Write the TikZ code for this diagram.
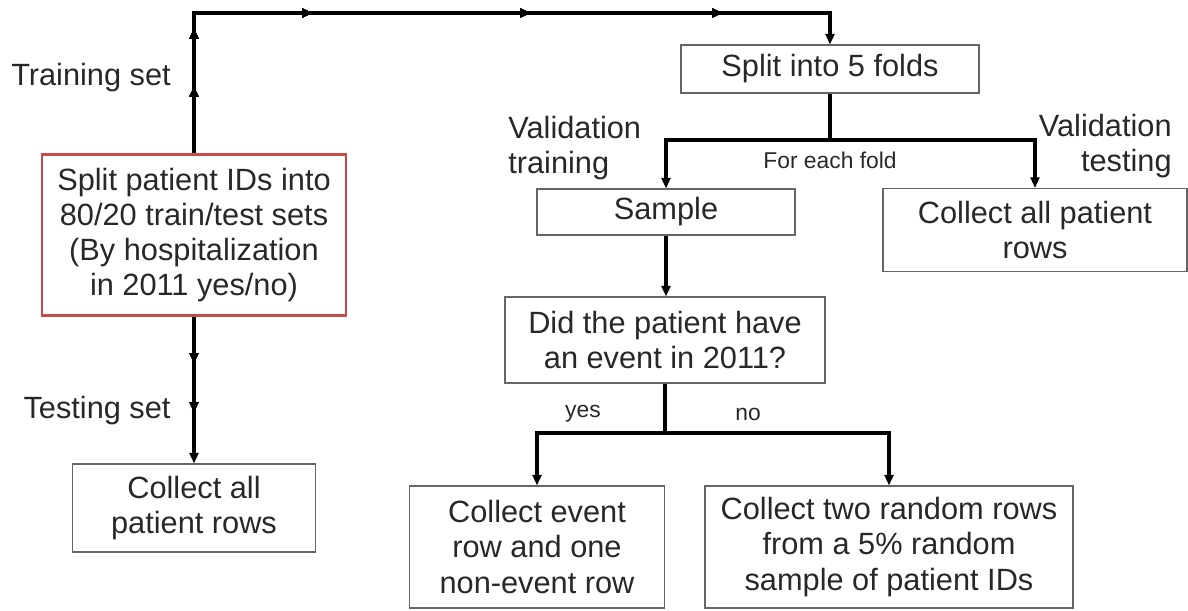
\documentclass[tikz,border=0pt]{standalone}
\usepackage{fontspec}
\setmainfont{Liberation Sans}
\usepackage{tikz}
\usetikzlibrary{arrows.meta,decorations.markings}
\definecolor{boxred}{RGB}{200,75,75}
\definecolor{ink}{RGB}{40,40,40}
\newcommand{\bigtext}{\fontsize{17.5}{20}\selectfont}
\newcommand{\smalltext}{\fontsize{13}{15}\selectfont}

\begin{document}
\begin{tikzpicture}[x=0.02cm,y=-0.02cm,
    box/.style={draw=black!60, line width=0.6pt, align=center, inner sep=0pt, font=\bigtext, text=ink},
    redbox/.style={box, draw=boxred, line width=1.4pt},
    conn/.style={line width=1.8pt, -{Triangle[length=6pt,width=5pt]}},
    line/.style={line width=1.8pt},
    tip/.style={decoration={markings, mark=at position #1 with {\arrow{Triangle[length=6pt,width=5pt]}}}, postaction={decorate}},
    lbl/.style={font=\bigtext, align=left, inner sep=0pt, text=ink},
    small/.style={font=\smalltext, inner sep=0pt, text=ink}]
    \useasboundingbox (0,0) rectangle (1188,611);
    %\draw[help lines] (0,0) grid (1188,611);

    % boxes
    \node[redbox, minimum width=304*0.02cm, minimum height=161*0.02cm] (split) at (194,235)
        {Split patient IDs into\\80/20 train/test sets\\(By hospitalization\\in 2011 yes/no)};
    \node[box, minimum width=243*0.02cm, minimum height=88*0.02cm] (testrows) at (194,508)
        {Collect all\\patient rows};
    \node[box, minimum width=298*0.02cm, minimum height=48*0.02cm] (folds) at (830,69)
        {Split into 5 folds};
    \node[box, minimum width=258*0.02cm, minimum height=46*0.02cm] (sample) at (666,212)
        {Sample};
    \node[box, minimum width=304*0.02cm, minimum height=83*0.02cm] (valrows) at (1035,230)
        {Collect all patient\\rows};
    \node[box, minimum width=320*0.02cm, minimum height=86*0.02cm] (event) at (665,340)
        {Did the patient have\\an event in 2011?};
    \node[box, minimum width=255*0.02cm, minimum height=122*0.02cm] (yesrows) at (537,547)
        {Collect event\\row and one\\non-event row};
    \node[box, minimum width=368*0.02cm, minimum height=122*0.02cm] (norows) at (889,547)
        {Collect two random rows\\from a 5\% random\\sample of patient IDs};

    % labels
    \node[lbl] (trainlbl) at (91,78) {Training set};
    \node[lbl] (testlbl) at (97,411) {Testing set};
    \node[lbl, anchor=west] (vtrain) at (508,148) {Validation\\training};
    \node[lbl, anchor=east, align=right] (vtest) at (1172,146) {Validation\\testing};
    \node[small] (foreach) at (830,160) {For each fold};
    \node[small] (yes) at (583,414) {yes};
    \node[small] (no) at (748,414) {no};

    % connectors
    \coordinate (tl) at (194,13);
    \coordinate (tr) at (830,13);
    \draw[conn, tip=1.34cm, tip=2.5cm, tip=5.18cm, tip=9.54cm, tip=13.38cm]
        (split.north) -- (tl) -- (tr) -- (folds.north);
    \draw[conn, tip=0.94cm, tip=1.92cm] (split.south) -- (testrows.north);

    \coordinate (fj) at (folds.south |- 0,140);
    \draw[line] (folds.south) -- (fj);
    \draw[conn] (fj) -| (sample.north);
    \draw[conn] (fj) -| (valrows.north);

    \draw[conn] (sample.south) -- (sample.south |- event.north);

    \coordinate (ej) at (event.south |- 0,433);
    \draw[line] (event.south) -- (ej);
    \draw[conn] (ej) -| (yesrows.north);
    \draw[conn] (ej) -| (norows.north);
\end{tikzpicture}
\end{document}
